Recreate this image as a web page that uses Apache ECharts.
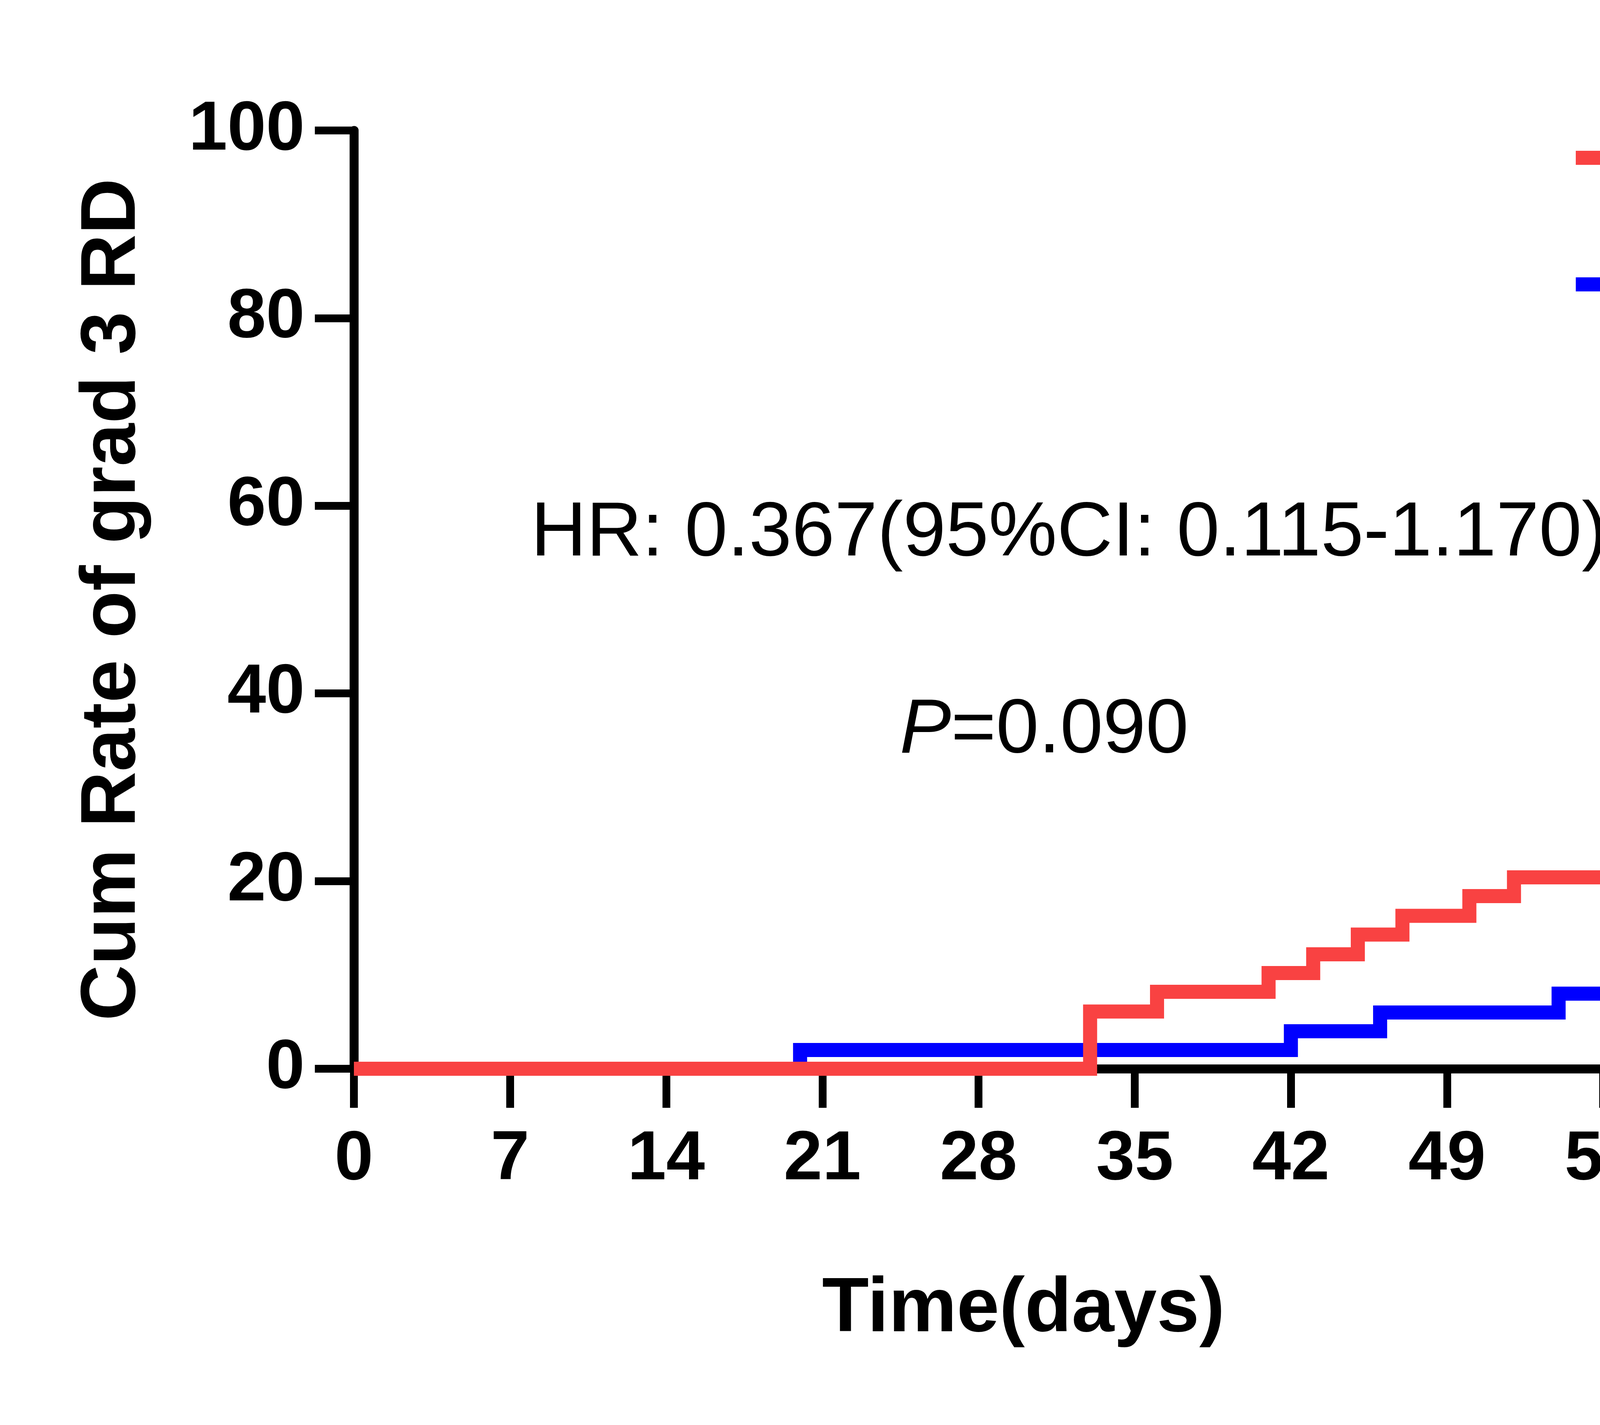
<!DOCTYPE html>
<html>
<head>
<meta charset="utf-8">
<script src="https://cdn.jsdelivr.net/npm/echarts@6/dist/echarts.min.js"></script>
<style>
  html, body { margin: 0; padding: 0; background: #fff; }
  #chart { width: 6282px; height: 3648px; }
</style>
</head>
<body>
<div id="chart"></div>
<script>
// cumulative rate (%) step points
var controlDays = [0, 33, 36, 41, 43, 45, 47, 50, 52, 63.3];
var controlRate = [0, 6.1, 8.2, 10.2, 12.2, 14.3, 16.3, 18.4, 20.4, 20.4];
var sanyreneDays = [0, 20, 42, 46, 54, 63.3];
var sanyreneRate = [0, 2, 4, 6, 8, 8];

var seriesNames = ['Control intervention', 'Sanyrene'];
var xTicks = [0, 7, 14, 21, 28, 35, 42, 49, 56, 63];
var yTicks = [0, 20, 40, 60, 80, 100];

var hrText = 'HR: 0.367(95%CI: 0.115-1.170)';
var pValue = '0.090';

(function() {
  var FONT = '"Liberation Sans", Arial, sans-serif';
  var RED = '#F94242';
  var BLUE = '#0000FF';

  function pairs(xs, ys) {
    return xs.map(function(x, i) { return [x, ys[i]]; });
  }

  // legend icon: bar with a small censor tick, padded so the text lines up
  var legendIcon = 'path://M0,30L256,30L256,66L0,66Z M110,0L146,0L146,30L110,30Z M398,108L399,108Z';

  var myChart = echarts.init(document.getElementById('chart'));

  var option = {
    backgroundColor: '#fff',
    animation: false,
    grid: {
      left: 906,
      right: 1778,
      top: 334,
      bottom: 912,
      containLabel: false
    },
    legend: {
      orient: 'vertical',
      left: 4034,
      top: 300,
      padding: 0,
      itemWidth: 399,
      itemHeight: 108,
      itemGap: 104,
      icon: legendIcon,
      itemStyle: { borderWidth: 0 },
      data: seriesNames,
      textStyle: {
        fontFamily: FONT,
        fontSize: 192,
        lineHeight: 220,
        color: '#000'
      }
    },
    xAxis: {
      type: 'value',
      min: xTicks[0],
      max: xTicks[xTicks.length - 1],
      interval: 7,
      name: 'Time(days)',
      nameLocation: 'middle',
      nameGap: 520,
      nameTextStyle: {
        fontFamily: FONT,
        fontSize: 196,
        fontWeight: 'bold',
        color: '#000',
        padding: [0, 170, 0, 0]
      },
      splitLine: { show: false },
      axisLine: { lineStyle: { color: '#000', width: 23 } },
      axisTick: { length: 100, lineStyle: { color: '#000', width: 20 } },
      axisLabel: {
        margin: 145,
        fontFamily: FONT,
        fontSize: 178,
        fontWeight: 'bold',
        color: '#000'
      }
    },
    yAxis: {
      type: 'value',
      min: yTicks[0],
      max: yTicks[yTicks.length - 1],
      interval: 20,
      name: 'Cum Rate of grad 3 RD',
      nameLocation: 'middle',
      nameGap: 517,
      nameTextStyle: {
        fontFamily: FONT,
        fontSize: 198,
        fontWeight: 'bold',
        color: '#000'
      },
      splitLine: { show: false },
      axisLine: { lineStyle: { color: '#000', width: 23 } },
      axisTick: { length: 100, lineStyle: { color: '#000', width: 20 } },
      axisLabel: {
        margin: 126,
        fontFamily: FONT,
        fontSize: 178,
        fontWeight: 'bold',
        color: '#000'
      }
    },
    series: [
      {
        name: seriesNames[1],
        type: 'line',
        step: 'end',
        showSymbol: false,
        clip: false,
        color: BLUE,
        itemStyle: { color: BLUE },
        lineStyle: { color: BLUE, width: 36, join: 'miter' },
        data: pairs(sanyreneDays, sanyreneRate)
      },
      {
        name: seriesNames[0],
        type: 'line',
        step: 'end',
        showSymbol: false,
        clip: false,
        color: RED,
        itemStyle: { color: RED },
        lineStyle: { color: RED, width: 36, join: 'miter' },
        data: pairs(controlDays, controlRate)
      }
    ],
    graphic: [
      {
        type: 'text',
        x: 2737,
        y: 1368,
        style: {
          text: hrText,
          fontFamily: FONT,
          fontSize: 197,
          fill: '#000',
          align: 'center',
          verticalAlign: 'middle'
        }
      },
      {
        type: 'text',
        x: 2673,
        y: 1872,
        style: {
          text: '{i|P}=' + pValue,
          fontFamily: FONT,
          fontSize: 197,
          fill: '#000',
          align: 'center',
          verticalAlign: 'middle',
          rich: {
            i: { fontStyle: 'italic', fontFamily: FONT, fontSize: 197, fill: '#000' }
          }
        }
      }
    ]
  };

  myChart.setOption(option);
})();
</script>
</body>
</html>
